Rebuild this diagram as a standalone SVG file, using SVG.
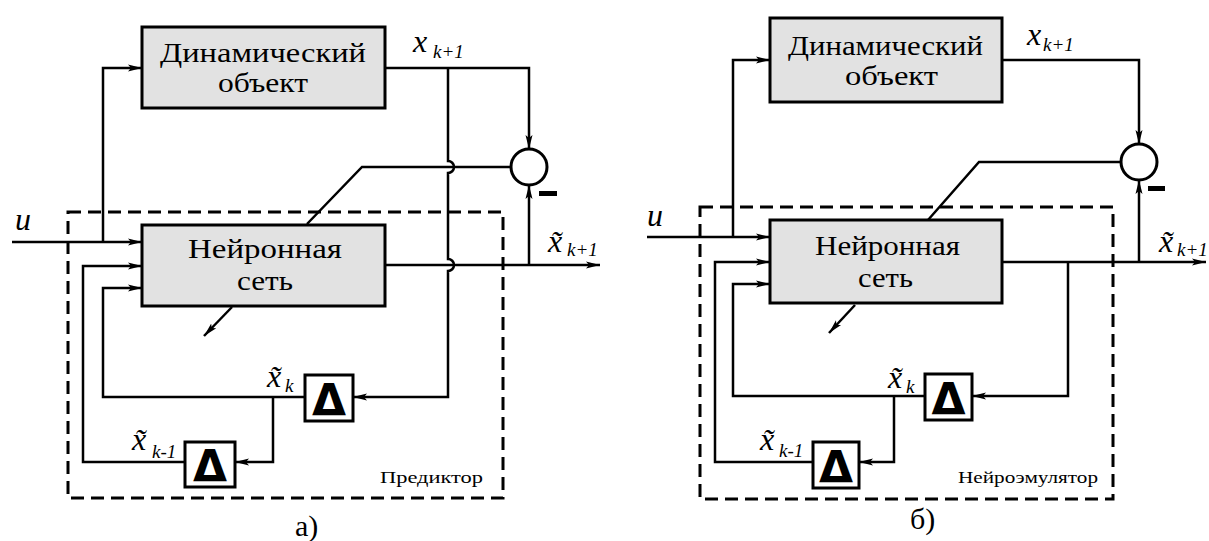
<svg xmlns="http://www.w3.org/2000/svg" width="1209" height="541" viewBox="0 0 1209 541">
<style>
.ln{fill:none;stroke:#000;stroke-width:2.5}
.ar{fill:none;stroke:#000;stroke-width:2.5;marker-end:url(#ah)}
.blk{fill:#e2e2e2;stroke:#000;stroke-width:3}
.dl{fill:#fff;stroke:#000;stroke-width:3}
.dash{fill:none;stroke:#000;stroke-width:3;stroke-dasharray:13 7}
text{font-family:'Liberation Serif','DejaVu Serif',serif}
.t{font-size:27px;fill:#000}
.s{font-size:16px;fill:#000}
.v{font-style:italic;font-size:32px;fill:#000}
.sub{font-style:italic;font-size:19px}
.d{font-family:'DejaVu Sans',sans-serif;font-weight:bold;font-size:44px;fill:#000;text-anchor:middle}
.cap{font-size:30px;fill:#000}
</style>
<defs>
<marker id="ah" markerUnits="userSpaceOnUse" markerWidth="16" markerHeight="10" refX="14" refY="5" orient="auto">
<path d="M0,1.5 L14,5 L0,8.5 L3,5 Z" fill="#000"/>
</marker>
</defs>

<g id="connectors">
<path class="ar" d="M12,242 H142"/>
<path class="ar" d="M103,242 V68 H142"/>
<path class="ar" d="M185,462 H83 V266 H142"/>
<path class="ar" d="M305,397 H103 V288 H142"/>
<path class="ar" d="M273,397 V462 H235"/>
<path class="ar" d="M385,68 H529 V149"/>
<path class="ar" d="M448,68 V161 A6,6 0 0 1 448,173 V259 A6,6 0 0 1 448,271 V397 H353"/>
<path class="ar" d="M385,265 H600"/>
<path class="ar" d="M529,265 V185"/>
<path class="ln" d="M511,167 H362 L307,224"/>
<path class="ar" d="M232,307 L204,336"/>
<path class="ar" d="M647,237 H770"/>
<path class="ar" d="M733,237 V60 H770"/>
<path class="ar" d="M813,462 H715 V262 H770"/>
<path class="ar" d="M925,396 H733 V284 H770"/>
<path class="ar" d="M894,396 V462 H859"/>
<path class="ar" d="M1002,60 H1139 V144"/>
<path class="ar" d="M1002,262 H1206"/>
<path class="ar" d="M1068,262 V396 H972"/>
<path class="ar" d="M1139,262 V180"/>
<path class="ln" d="M1121,162 H979 L928,220"/>
<path class="ar" d="M855,305 L829,333"/>
</g>

<g id="predictor-frame">
<rect class="dash" x="68" y="212" width="435" height="286"/>
<text class="s" x="380" y="483" textLength="103" lengthAdjust="spacingAndGlyphs">Предиктор</text>
</g>
<g id="emulator-frame">
<rect class="dash" x="700" y="207" width="413" height="292"/>
<text class="s" x="958" y="483" textLength="140" lengthAdjust="spacingAndGlyphs">Нейроэмулятор</text>
</g>

<g id="a-dyn">
<rect class="blk" x="142" y="27" width="243" height="81"/>
<text class="t" x="160" y="62" textLength="206" lengthAdjust="spacingAndGlyphs">Динамический</text>
<text class="t" x="218" y="92" textLength="90" lengthAdjust="spacingAndGlyphs">объект</text>
</g>
<g id="a-nn">
<rect class="blk" x="142" y="225" width="243" height="81"/>
<text class="t" x="188" y="258" textLength="154" lengthAdjust="spacingAndGlyphs">Нейронная</text>
<text class="t" x="237" y="290" textLength="56" lengthAdjust="spacingAndGlyphs">сеть</text>
</g>
<g id="a-sum">
<circle cx="529" cy="167" r="18" fill="#fff" stroke="#000" stroke-width="3"/>
<rect x="539" y="191" width="18" height="5" fill="#000"/>
</g>
<g id="a-delay1">
<rect class="dl" x="305" y="375" width="48" height="46"/>
<text class="d" x="329" y="416">Δ</text>
</g>
<g id="a-delay2">
<rect class="dl" x="185" y="442" width="50" height="45"/>
<text class="d" x="210" y="482">Δ</text>
</g>

<g id="b-dyn">
<rect class="blk" x="770" y="18" width="232" height="84"/>
<text class="t" x="788" y="55" textLength="195" lengthAdjust="spacingAndGlyphs">Динамический</text>
<text class="t" x="845" y="85" textLength="93" lengthAdjust="spacingAndGlyphs">объект</text>
</g>
<g id="b-nn">
<rect class="blk" x="770" y="220" width="232" height="83"/>
<text class="t" x="815" y="255" textLength="145" lengthAdjust="spacingAndGlyphs">Нейронная</text>
<text class="t" x="858" y="287" textLength="55" lengthAdjust="spacingAndGlyphs">сеть</text>
</g>
<g id="b-sum">
<circle cx="1139" cy="162" r="18" fill="#fff" stroke="#000" stroke-width="3"/>
<rect x="1148" y="186" width="17" height="5" fill="#000"/>
</g>
<g id="b-delay1">
<rect class="dl" x="925" y="374" width="47" height="46"/>
<text class="d" x="948.5" y="415">Δ</text>
</g>
<g id="b-delay2">
<rect class="dl" x="813" y="442" width="46" height="46"/>
<text class="d" x="836" y="483">Δ</text>
</g>

<g id="labels">
<text class="v" x="15" y="230">u</text>
<text class="v" x="413" y="52">x<tspan class="sub" x="433" y="58">k+1</tspan></text>
<text class="v" x="548" y="252">x&#771;<tspan class="sub" x="567" y="256">k+1</tspan></text>
<text class="v" x="267" y="387">x&#771;<tspan class="sub" x="285" y="392">k</tspan></text>
<text class="v" x="132" y="450">x&#771;<tspan class="sub" x="152" y="458">k-1</tspan></text>
<text class="v" x="647" y="226">u</text>
<text class="v" x="1027" y="45">x<tspan class="sub" x="1043" y="51">k+1</tspan></text>
<text class="v" x="1159" y="252">x&#771;<tspan class="sub" x="1177" y="256">k+1</tspan></text>
<text class="v" x="888" y="388">x&#771;<tspan class="sub" x="906" y="393">k</tspan></text>
<text class="v" x="760" y="450">x&#771;<tspan class="sub" x="779" y="457">k-1</tspan></text>
<text class="cap" x="295" y="536">а)</text>
<text class="cap" x="910" y="529">б)</text>
</g>
</svg>
